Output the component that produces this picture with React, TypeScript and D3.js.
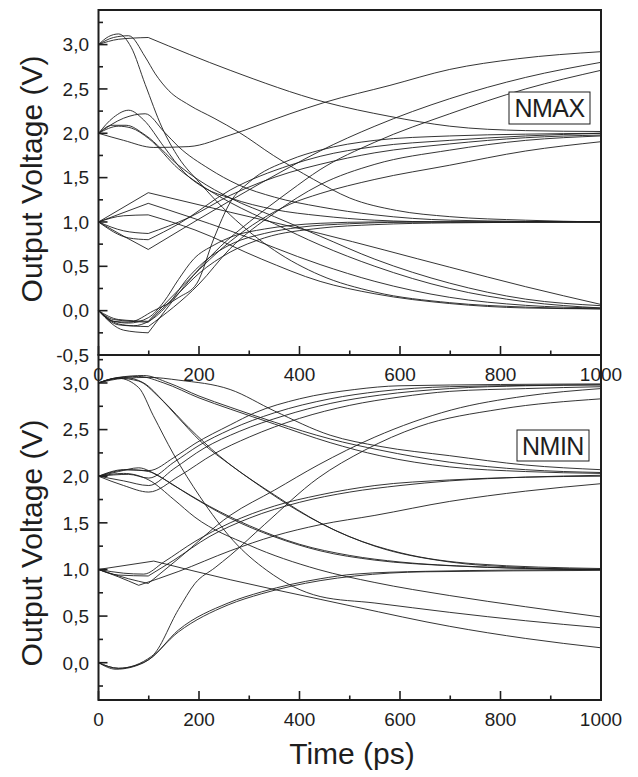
import React from "react";
import * as d3 from "d3";

type Pt = number[];

// ---------- data: NMAX (top panel) ----------
const TIME_TICKS = [0, 200, 400, 600, 800, 1000];
const TIME_MINOR = [100, 300, 500, 700, 900];
const NMAX_Y_TICKS = [-0.5, 0, 0.5, 1.0, 1.5, 2.0, 2.5, 3.0];
const NMAX_Y_MINOR = [-0.25, 0.25, 0.75, 1.25, 1.75, 2.25, 2.75, 3.25];
const NMIN_Y_TICKS = [0, 0.5, 1.0, 1.5, 2.0, 2.5, 3.0];
const NMIN_Y_MINOR = [-0.25, 0.25, 0.75, 1.25, 1.75, 2.25, 2.75, 3.25];

// third element = 1 marks a sharp corner
const NMAX_F32: Pt[] = [[0,3.0],[40,3.06],[99,3.08,1],[262,2.71],[451,2.35],[580,2.19],[699,2.08],[850,2.03],[1000,2.02]];
const NMAX_F31: Pt[] = [[0,3.0],[30,3.08],[60,3.10],[93,2.86],[113,2.67],[140,2.48],[180,2.32],[230,2.17],[280,2.01],[348,1.75],[428,1.48],[500,1.27],[593,1.13],[699,1.06],[850,1.02],[1000,1.0]];
const NMAX_F30: Pt[] = [[0,3.0],[20,3.09],[40,3.12],[65,2.97],[93,2.55],[126,2.07],[160,1.72],[200,1.45],[262,1.08],[350,0.68],[441,0.40],[550,0.21],[699,0.09],[850,0.04],[1000,0.02]];
const NMAX_R23: Pt[] = [[0,2.0],[50,1.92],[110,1.84],[180,1.85],[262,1.98],[381,2.22],[451,2.35],[580,2.54],[699,2.72],[834,2.84],[1000,2.92]];
const NMAX_F21A: Pt[] = [[0,2.0],[30,2.18],[60,2.26],[90,2.15],[130,1.85],[172,1.55],[212,1.38],[262,1.27],[350,1.14],[441,1.07],[550,1.02],[700,1.0],[1000,1.0]];
const NMAX_F21B: Pt[] = [[0,2.0],[50,2.17],[93,2.22],[130,2.02],[159,1.85],[220,1.60],[278,1.42],[350,1.28],[441,1.17],[550,1.08],[700,1.02],[1000,1.0]];
const NMAX_F20A: Pt[] = [[0,2.0],[27,2.09],[55,2.09],[93,1.98],[159,1.64],[200,1.47],[262,1.27],[350,1.06],[441,0.84],[550,0.58],[699,0.31],[850,0.13],[1000,0.056]];
const NMAX_F20B: Pt[] = [[0,2.0],[40,2.08],[65,2.06],[100,1.94],[159,1.60],[200,1.43],[262,1.22],[350,0.98],[441,0.74],[550,0.50],[699,0.25],[850,0.10],[1000,0.03]];
const NMAX_F10A: Pt[] = [[0,1.0],[99,1.33,1],[262,1.11],[441,0.87],[699,0.49],[850,0.27],[1000,0.07]];
const NMAX_F10B: Pt[] = [[0,1.0],[99,1.21,1],[262,0.90],[441,0.52],[550,0.33],[699,0.15],[850,0.06],[1000,0.03]];
const NMAX_F10C: Pt[] = [[0,1.0],[50,1.07],[99,1.08,1],[192,0.91],[325,0.58],[441,0.33],[550,0.19],[699,0.08],[850,0.03],[1000,0.02]];
const NMAX_R12A: Pt[] = [[0,1.0],[50,0.90],[99,0.87,1],[180,1.05],[262,1.30],[381,1.56],[441,1.65],[550,1.78],[699,1.88],[850,1.95],[1000,1.98]];
const NMAX_R12B: Pt[] = [[0,1.0],[60,0.82],[99,0.80,1],[160,0.98],[262,1.36],[381,1.64],[441,1.74],[550,1.85],[699,1.92],[850,1.97],[1000,2.0]];
const NMAX_R13: Pt[] = [[0,1.0],[50,0.84],[99,0.69,1],[190,1.00],[262,1.24],[381,1.62],[441,1.80],[550,2.08],[699,2.39],[850,2.63],[1000,2.80]];
const NMAX_R01A: Pt[] = [[0,0],[30,-0.12],[60,-0.14],[99,-0.08],[130,0.10],[159,0.35],[189,0.58],[230,0.74],[268,0.84],[330,0.92],[381,0.96],[441,0.985],[550,1.0],[1000,1.0]];
const NMAX_R01B: Pt[] = [[0,0],[40,-0.15],[70,-0.17],[100,-0.12],[140,0.08],[175,0.35],[210,0.55],[268,0.76],[330,0.87],[400,0.94],[500,0.98],[650,1.0],[1000,1.0]];
const NMAX_R01C: Pt[] = [[0,0],[30,-0.1],[99,-0.13,1],[160,0.2],[200,0.42],[262,0.66],[330,0.82],[441,0.93],[550,0.97],[700,0.99],[1000,1.0]];
const NMAX_R02A: Pt[] = [[0,0],[30,-0.12],[60,-0.13],[110,0.0],[160,0.15],[196,0.31],[230,0.82],[262,1.22],[300,1.45],[381,1.70],[441,1.81],[550,1.92],[699,1.97],[850,1.99],[1000,2.0]];
const NMAX_R02B: Pt[] = [[0,0],[40,-0.16],[99,-0.18,1],[200,0.3],[262,0.7],[350,1.1],[441,1.42],[550,1.65],[699,1.81],[850,1.92],[1000,1.97]];
const NMAX_R02C: Pt[] = [[0,0],[40,-0.1],[99,-0.12,1],[180,0.35],[262,0.78],[381,1.2],[441,1.32],[550,1.48],[699,1.64],[850,1.80],[1000,1.905]];
const NMAX_R03: Pt[] = [[0,0],[50,-0.22],[99,-0.25,1],[242,0.72],[300,1.0],[381,1.35],[441,1.59],[550,1.90],[699,2.22],[850,2.50],[1000,2.71]];

const NMAX_CURVES = [NMAX_F32, NMAX_F31, NMAX_F30, NMAX_R23, NMAX_F21A, NMAX_F21B, NMAX_F20A, NMAX_F20B,
  NMAX_F10A, NMAX_F10B, NMAX_F10C, NMAX_R12A, NMAX_R12B, NMAX_R13, NMAX_R01A, NMAX_R01B, NMAX_R01C,
  NMAX_R02A, NMAX_R02B, NMAX_R02C, NMAX_R03];

// ---------- data: NMIN (bottom panel) ----------
const NMIN_F32A: Pt[] = [[0,3.0],[50,3.05],[100,3.06],[160,3.03],[262,2.93],[350,2.70],[461,2.44],[560,2.32],[699,2.22],[850,2.12],[1000,2.07]];
const NMIN_F32B: Pt[] = [[0,3.0],[40,3.06],[90,3.08],[140,3.0],[200,2.86],[262,2.74],[350,2.58],[461,2.40],[560,2.28],[699,2.15],[850,2.07],[1000,2.04]];
const NMIN_F32C: Pt[] = [[0,3.0],[30,3.05],[80,3.07],[130,3.0],[200,2.84],[262,2.72],[350,2.56],[461,2.36],[560,2.22],[699,2.10],[850,2.05],[1000,2.03]];
const NMIN_F31A: Pt[] = [[0,3.0],[40,3.05],[80,3.02],[120,2.85],[160,2.62],[202,2.38],[268,2.10],[350,1.80],[441,1.50],[550,1.25],[699,1.08],[850,1.02],[1000,1.0]];
const NMIN_F31B: Pt[] = [[0,3.0],[50,3.06],[90,3.0],[130,2.80],[180,2.52],[240,2.22],[320,1.90],[400,1.62],[500,1.35],[600,1.18],[750,1.06],[1000,1.01]];
const NMIN_F30: Pt[] = [[0,3.0],[40,3.05],[80,2.95],[109,2.65],[149,2.24],[202,1.78],[268,1.31],[335,0.99],[441,0.71],[550,0.64],[699,0.54],[850,0.45],[1000,0.375]];
const NMIN_R23A: Pt[] = [[0,2.0],[50,2.07],[100,2.06],[150,2.2],[192,2.35],[262,2.55],[311,2.68],[400,2.83],[510,2.93],[600,2.97],[1000,2.99]];
const NMIN_R23B: Pt[] = [[0,2.0],[60,2.02],[100,1.98],[150,2.15],[200,2.33],[262,2.50],[350,2.68],[461,2.83],[560,2.91],[699,2.96],[1000,2.98]];
const NMIN_R23C: Pt[] = [[0,2.0],[50,1.95],[100,1.90],[150,2.08],[210,2.3],[280,2.48],[370,2.65],[461,2.78],[560,2.87],[699,2.94],[850,2.97],[1000,2.98]];
const NMIN_R23D: Pt[] = [[0,2.0],[50,1.9],[100,1.83],[160,2.0],[230,2.24],[300,2.42],[400,2.62],[500,2.76],[600,2.85],[699,2.91],[850,2.94],[1000,2.96]];
const NMIN_F21A: Pt[] = [[0,2.0],[40,2.05],[80,2.09],[120,2.0],[180,1.80],[262,1.55],[350,1.35],[441,1.20],[550,1.10],[699,1.04],[850,1.01],[1000,1.0]];
const NMIN_F21B: Pt[] = [[0,2.0],[60,2.07],[100,2.05],[150,1.90],[220,1.68],[300,1.47],[400,1.27],[500,1.15],[600,1.08],[750,1.03],[1000,1.0]];
const NMIN_F20: Pt[] = [[0,2.0],[50,2.03],[100,1.96],[150,1.75],[192,1.56],[300,1.26],[437,1.00],[550,0.86],[699,0.72],[850,0.60],[1000,0.49]];
const NMIN_F10: Pt[] = [[0,1.0],[110,1.09,1],[262,0.89],[441,0.68],[510,0.60],[699,0.39],[850,0.26],[1000,0.16]];
const NMIN_R13: Pt[] = [[0,1.0],[60,0.90],[99,0.85,1],[160,1.12],[262,1.58],[350,1.85],[437,2.12],[550,2.42],[702,2.71],[850,2.86],[1000,2.94]];
const NMIN_R12A: Pt[] = [[0,1.0],[50,0.96],[90,0.95],[130,1.08],[192,1.30],[262,1.50],[350,1.68],[441,1.80],[550,1.90],[699,1.96],[850,1.99],[1000,2.0]];
const NMIN_R12B: Pt[] = [[0,1.0],[40,0.94],[99,0.93,1],[150,1.10],[220,1.35],[300,1.55],[400,1.72],[500,1.83],[600,1.90],[699,1.95],[850,1.99],[1000,2.01]];
const NMIN_R12C: Pt[] = [[0,1.0],[40,0.92],[80,0.83,1],[160,0.98],[262,1.20],[350,1.36],[441,1.48],[550,1.58],[699,1.73],[850,1.84],[1000,1.92]];
const NMIN_R01A: Pt[] = [[0,0],[40,-0.06],[99,0.03],[159,0.35],[258,0.64],[325,0.76],[441,0.90],[510,0.95],[650,0.98],[1000,1.0]];
const NMIN_R01B: Pt[] = [[0,0],[35,-0.07],[90,0.0],[159,0.33],[258,0.62],[325,0.74],[441,0.88],[510,0.93],[650,0.975],[1000,0.99]];
const NMIN_R03: Pt[] = [[0,0],[40,-0.06],[106,0.07],[159,0.57],[192,0.85],[232,1.02],[262,1.15],[330,1.48],[437,1.98],[530,2.28],[636,2.53],[800,2.72],[1000,2.83]];

const NMIN_CURVES = [NMIN_F32A, NMIN_F32B, NMIN_F32C, NMIN_F31A, NMIN_F31B, NMIN_F30, NMIN_R23A, NMIN_R23B,
  NMIN_R23C, NMIN_R23D, NMIN_F21A, NMIN_F21B, NMIN_F20, NMIN_F10, NMIN_R13, NMIN_R12A, NMIN_R12B, NMIN_R12C,
  NMIN_R01A, NMIN_R01B, NMIN_R03];

const FONT = "Arial, 'Liberation Sans', Helvetica, sans-serif";
const INK = "#1e1e1e";

const X_LEFT = 98.5;
const X_RIGHT = 601;

function curvePath(c: Pt[], x: (v: number) => number, y: (v: number) => number): string {
  const segs: Pt[][] = [];
  let cur: Pt[] = [];
  c.forEach((p, i) => {
    cur.push(p);
    if (p[2] && i > 0 && i < c.length - 1) {
      segs.push(cur);
      cur = [p];
    }
  });
  segs.push(cur);
  const line = d3
    .line<Pt>()
    .x((d) => x(d[0]))
    .y((d) => y(d[1]))
    .curve(d3.curveMonotoneX);
  return segs.map((s) => line(s) || "").join("");
}

const fmt = (v: number) => v.toFixed(1).replace(".", ",");

interface PanelProps {
  curves: Pt[][];
  yDomain: [number, number];
  top: number;
  bottom: number;
  yTicks: number[];
  yMinor: number[];
  tag: string;
  tagBox: [number, number, number, number];
  titleY: number;
}

function Panel({ curves, yDomain, top, bottom, yTicks, yMinor, tag, tagBox, titleY }: PanelProps) {
  const x = d3.scaleLinear().domain([0, 1000]).range([X_LEFT, X_RIGHT]);
  const y = d3.scaleLinear().domain(yDomain).range([bottom, top]);
  const [bx, by, bw, bh] = tagBox;
  return (
    <g>
      <g fill="none" stroke={INK} strokeWidth={0.9}>
        {curves.map((c, i) => (
          <path key={i} d={curvePath(c, x, y)} />
        ))}
      </g>
      {/* frame */}
      <rect x={X_LEFT} y={top} width={X_RIGHT - X_LEFT} height={bottom - top} fill="none" stroke={INK} strokeWidth={2} />
      {/* y ticks */}
      {yTicks.map((v) => (
        <line key={"ym" + v} x1={X_LEFT} x2={X_LEFT + 9} y1={y(v)} y2={y(v)} stroke={INK} strokeWidth={1.6} />
      ))}
      {yMinor.map((v) => (
        <line key={"yn" + v} x1={X_LEFT} x2={X_LEFT + 4.5} y1={y(v)} y2={y(v)} stroke={INK} strokeWidth={1.6} />
      ))}
      {yTicks.map((v) => (
        <text key={"yl" + v} x={89} y={y(v)} dy="0.36em" textAnchor="end" fontFamily={FONT} fontSize={19} fill={INK}>
          {fmt(v)}
        </text>
      ))}
      {/* x ticks */}
      {TIME_TICKS.map((v) => (
        <line key={"xm" + v} x1={x(v)} x2={x(v)} y1={bottom} y2={bottom - 9} stroke={INK} strokeWidth={1.6} />
      ))}
      {TIME_MINOR.map((v) => (
        <line key={"xn" + v} x1={x(v)} x2={x(v)} y1={bottom} y2={bottom - 4.5} stroke={INK} strokeWidth={1.6} />
      ))}
      {TIME_TICKS.map((v) => (
        <text key={"xl" + v} x={x(v)} y={bottom + 26} textAnchor="middle" fontFamily={FONT} fontSize={19} fill={INK}>
          {String(v)}
        </text>
      ))}
      {/* y title */}
      <text
        transform={`translate(42,${titleY}) rotate(-90)`}
        textAnchor="middle"
        fontFamily={FONT}
        fontSize={30}
        fill={INK}
      >
        Output Voltage (V)
      </text>
      {/* tag box */}
      <rect x={bx} y={by} width={bw} height={bh} fill="#fff" stroke={INK} strokeWidth={1} />
      <text x={bx + bw / 2} y={by + bh / 2} dy="0.36em" textAnchor="middle" fontFamily={FONT} fontSize={25} fill={INK} letterSpacing={-0.5}>
        {tag}
      </text>
    </g>
  );
}

export default function App() {
  return (
    <svg
      width={638}
      height={777}
      viewBox="0 0 638 777"
      style={{ position: "absolute", left: 0, top: 0, background: "#fff" }}
    >
      <rect x={0} y={0} width={638} height={777} fill="#fff" />
      <Panel
        curves={NMAX_CURVES}
        yDomain={[-0.5, 3.39]}
        top={10}
        bottom={355}
        yTicks={NMAX_Y_TICKS}
        yMinor={NMAX_Y_MINOR}
        tag="NMAX"
        tagBox={[509, 92, 81, 32]}
        titleY={179}
      />
      <Panel
        curves={NMIN_CURVES}
        yDomain={[-0.4, 3.3]}
        top={355}
        bottom={700}
        yTicks={NMIN_Y_TICKS}
        yMinor={NMIN_Y_MINOR}
        tag="NMIN"
        tagBox={[517, 430, 72, 31]}
        titleY={543}
      />
      <text x={352} y={764} textAnchor="middle" fontFamily={FONT} fontSize={30} fill={INK}>
        Time (ps)
      </text>
    </svg>
  );
}
